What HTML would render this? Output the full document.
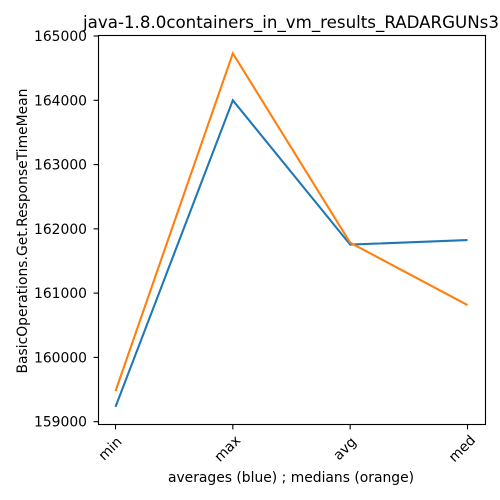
<!DOCTYPE html>
<html>
<head>
<meta charset="utf-8">
<style>
html,body{margin:0;padding:0;background:#fff;}
svg{display:block;}
text{font-family:"DejaVu Sans",sans-serif;fill:#000;}
</style>
</head>
<body>
<svg id="chart" xmlns="http://www.w3.org/2000/svg" width="500" height="500" viewBox="0 0 500 500">
<rect width="500" height="500" fill="#fff"/>
<text x="291" y="28" font-size="16.67" text-anchor="middle">java-1.8.0containers_in_vm_results_RADARGUNs3</text>
<text x="291" y="482" font-size="13.89" text-anchor="middle">averages (blue) ; medians (orange)</text>
<text transform="translate(27 231) rotate(-90)" font-size="13.89" text-anchor="middle">BasicOperations.Get.ResponseTimeMean</text>
<g id="ticks"></g>
<g id="series"></g>
<rect x="98.5" y="35.5" width="387" height="389" fill="none" stroke="#000" stroke-width="1.11"/>
</svg>
<script>
const categories = ["min", "max", "avg", "med"];
const averages = [159230, 164000, 161755, 161825];
const medians = [159475, 164730, 161785, 160815];
const yTicks = [159000, 160000, 161000, 162000, 163000, 164000, 165000];

const NS = "http://www.w3.org/2000/svg";
const ticksGroup = document.getElementById("ticks");
const seriesGroup = document.getElementById("series");

function xScale(i) {
  return 115.5 + i * (467.5 - 115.5) / (categories.length - 1);
}
function yScale(v) {
  return 421.7 - (v - 159000) * (421.7 - 36) / 6000;
}

yTicks.forEach(function (t) {
  const y = yScale(t);
  const mark = document.createElementNS(NS, "line");
  mark.setAttribute("x1", 98.5);
  mark.setAttribute("x2", 93.6);
  mark.setAttribute("y1", y);
  mark.setAttribute("y2", y);
  mark.setAttribute("stroke", "#000");
  mark.setAttribute("stroke-width", "1.11");
  
  
  ticksGroup.appendChild(mark);
  const label = document.createElementNS(NS, "text");
  label.setAttribute("x", 87);
  label.setAttribute("y", y + 5);
  label.setAttribute("font-size", "13.89");
  label.setAttribute("text-anchor", "end");
  label.textContent = t;
  
  
  ticksGroup.appendChild(label);
});

categories.forEach(function (c, i) {
  const x = xScale(i);
  const mark = document.createElementNS(NS, "line");
  mark.setAttribute("x1", x);
  mark.setAttribute("x2", x);
  mark.setAttribute("y1", 424.5);
  mark.setAttribute("y2", 429.4);
  mark.setAttribute("stroke", "#000");
  mark.setAttribute("stroke-width", "1.11");
  
  
  ticksGroup.appendChild(mark);
  const label = document.createElementNS(NS, "text");
  label.setAttribute("transform", "translate(" + (x - 5) + " 449) rotate(-45)");
  label.setAttribute("font-size", "13.89");
  label.setAttribute("text-anchor", "middle");
  label.setAttribute("dominant-baseline", "middle");
  label.textContent = c;
  
  
  ticksGroup.appendChild(label);
});

function pointsFor(values) {
  return values.map(function (v, i) {
    return xScale(i) + "," + yScale(v);
  }).join(" ");
}

const avgLine = document.createElementNS(NS, "polyline");
avgLine.setAttribute("points", pointsFor(averages));
avgLine.setAttribute("fill", "none");
avgLine.setAttribute("stroke", "#1f77b4");
avgLine.setAttribute("stroke-width", "2.08");


seriesGroup.appendChild(avgLine);

const medLine = document.createElementNS(NS, "polyline");
medLine.setAttribute("points", pointsFor(medians));
medLine.setAttribute("fill", "none");
medLine.setAttribute("stroke", "#ff7f0e");
medLine.setAttribute("stroke-width", "2.08");


seriesGroup.appendChild(medLine);
</script>
</body>
</html>
